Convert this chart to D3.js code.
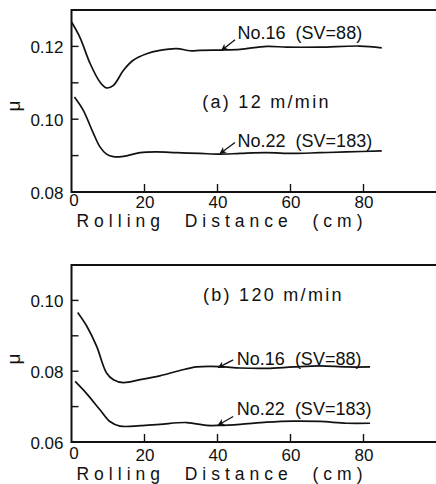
<!DOCTYPE html>
<html>
<head>
<meta charset="utf-8">
<script src="https://cdn.jsdelivr.net/npm/d3@7"></script>
<style>
  body { margin: 0; background: #fff; }
  svg { display: block; font-family: "Liberation Sans", Arial, sans-serif; }
  .tick text { font-size: 17px; fill: #111; }
  .domain { display: none; }
</style>
</head>
<body>
<script>
let w = 436;
let h = 484;

// distance (cm) and friction coefficient
let a16_x = [0, 2.3, 5.1, 7.8, 9.6, 11.5, 14.2, 16.9, 20.6, 24.2, 28.8, 32.5, 35.2, 40.7, 46.2, 53.5, 59, 68, 79, 85];
let a16_y = [0.1267, 0.1225, 0.1153, 0.1102, 0.1086, 0.1093, 0.1134, 0.1162, 0.1180, 0.1189, 0.1194, 0.1188, 0.1189, 0.1190, 0.1192, 0.1200, 0.1198, 0.1198, 0.1201, 0.1196];

let a22_x = [0.8, 3.2, 6.0, 7.8, 9.6, 11.5, 14.2, 18.8, 23.3, 28.8, 35.2, 40.7, 46.2, 53.5, 60.8, 68, 75.4, 85];
let a22_y = [0.1061, 0.1025, 0.0961, 0.0924, 0.0904, 0.0897, 0.0898, 0.0908, 0.0910, 0.0908, 0.0906, 0.0904, 0.0906, 0.0908, 0.0906, 0.0908, 0.0910, 0.0913];

let b16_x = [1.7, 4.2, 6.9, 9.6, 11.5, 14.2, 18.8, 24.2, 29.7, 34.3, 40.7, 46.2, 53.5, 60.8, 68, 75.4, 81.8];
let b16_y = [0.0966, 0.0927, 0.0870, 0.0795, 0.0776, 0.0768, 0.0776, 0.0787, 0.0802, 0.0812, 0.0813, 0.0809, 0.0808, 0.0812, 0.0815, 0.0812, 0.0812];

let b22_x = [1.0, 4.2, 7.8, 10.5, 13.3, 18.8, 24.2, 31.6, 37.0, 40.7, 46.2, 53.5, 60.8, 68, 75.4, 81.8];
let b22_y = [0.0771, 0.0736, 0.0691, 0.0658, 0.0645, 0.0646, 0.0650, 0.0655, 0.0647, 0.0647, 0.0650, 0.0656, 0.0659, 0.0658, 0.0653, 0.0653];

let xTicks = [0, 20, 40, 60, 80];
let aTicks = [0.08, 0.09, 0.10, 0.11, 0.12];
let bTicks = [0.06, 0.07, 0.08, 0.09, 0.10];
let aLabels = ["0.08", "0.10", "0.12"];
let bLabels = ["0.06", "0.08", "0.10"];

let panels = [
  { top: 10, bottom: 192, ymin: 0.08, ymax: 0.13, ticks: aTicks, labels: aLabels,
    tickOff: 16, titleOff: 35, muY: 106,
    title: "(a) 12 m/min", titleAt: [35.8, 0.1030],
    series: [
      { x: a16_x, y: a16_y, name: "No.16  (SV=88)", tip: [41.1, 0.1189], tail: [44.8, 0.1218], text: [45.5, 0.1220] },
      { x: a22_x, y: a22_y, name: "No.22  (SV=183)", tip: [40.7, 0.0906], tail: [44.8, 0.0936], text: [45.5, 0.0925] }
    ] },
  { top: 265, bottom: 442, ymin: 0.06, ymax: 0.11, ticks: bTicks, labels: bLabels,
    tickOff: 19, titleOff: 38, muY: 359,
    title: "(b) 120 m/min", titleAt: [36.0, 0.0997],
    series: [
      { x: b16_x, y: b16_y, name: "No.16  (SV=88)", tip: [40.2, 0.0810], tail: [44.3, 0.0832], text: [45.3, 0.0818] },
      { x: b22_x, y: b22_y, name: "No.22  (SV=183)", tip: [40.2, 0.0648], tail: [44.3, 0.0672], text: [45.3, 0.0676] }
    ] }
];

let svg = d3.select("body")
            .append("svg")
            .attr("width", w)
            .attr("height", h);

svg.append("defs")
   .append("marker")
   .attr("id", "arr")
   .attr("viewBox", "0 0 10 10")
   .attr("refX", 9)
   .attr("refY", 5)
   .attr("markerWidth", 7)
   .attr("markerHeight", 7)
   .attr("markerUnits", "userSpaceOnUse")
   .attr("orient", "auto")
   .append("path")
   .attr("d", "M0,0 L10,5 L0,10 L3,5 Z")
   .attr("fill", "#111");

let x = d3.scaleLinear().domain([0, 100]).range([71.5, 436.5]);

panels.forEach(p => {
  let y = d3.scaleLinear().domain([p.ymin, p.ymax]).range([p.bottom, p.top]);
  let g = svg.append("g");

  // frame: left, top and bottom lines (right side runs off the page)
  g.append("path")
   .attr("d", `M${w},${p.top}H${x(0)}V${p.bottom}H${w}`)
   .attr("fill", "none")
   .attr("stroke", "#111")
   .attr("stroke-width", 2);

  // inward ticks
  g.selectAll(".xt")
   .data(xTicks.filter(d => d > 0))
   .enter()
   .append("line")
   .attr("class", "xt")
   .attr("x1", d => x(d)).attr("x2", d => x(d))
   .attr("y1", p.bottom).attr("y2", p.bottom - 8)
   .attr("stroke", "#111")
   .attr("stroke-width", 1.4);

  g.selectAll(".yt")
   .data(p.ticks.filter(d => d > p.ymin + 1e-9))
   .enter()
   .append("line")
   .attr("class", "yt")
   .attr("x1", x(0)).attr("x2", x(0) + 7)
   .attr("y1", d => y(d)).attr("y2", d => y(d))
   .attr("stroke", "#111")
   .attr("stroke-width", 1.4);

  // tick labels
  let xa = g.append("g")
            .attr("transform", `translate(0,${p.bottom})`)
            .call(d3.axisBottom(x).tickValues(xTicks).tickSize(0).tickPadding(0));
  xa.selectAll(".tick text").attr("y", p.tickOff).attr("dy", 0);
  xa.selectAll(".tick").filter(d => d === 0).select("text").attr("dx", 2).attr("y", p.tickOff - 2);
  xa.selectAll(".tick line").remove();

  let ya = g.append("g")
            .attr("transform", `translate(${x(0)},0)`)
            .call(d3.axisLeft(y).tickValues(p.ticks).tickSize(0).tickPadding(8)
                    .tickFormat(d => { let s = d3.format(".2f")(d); return p.labels.includes(s) ? s : ""; }));
  ya.selectAll(".tick line").remove();
  ya.selectAll(".tick text").attr("dy", "0.36em");

  g.append("text")
   .attr("x", 222)
   .attr("y", p.bottom + p.titleOff)
   .attr("text-anchor", "middle")
   .attr("font-size", 17.5)
   .attr("letter-spacing", 5)
   .attr("fill", "#111")
   .style("white-space", "pre")
   .text("Rolling  Distance  (cm)");

  g.append("text")
   .attr("transform", `translate(20,${p.muY}) rotate(-90)`)
   .attr("text-anchor", "middle")
   .attr("font-size", 19)
   .attr("fill", "#111")
   .text("μ");

  g.append("text")
   .attr("x", x(p.titleAt[0]))
   .attr("y", y(p.titleAt[1]))
   .attr("font-size", 18)
   .attr("letter-spacing", 2.3)
   .attr("fill", "#111")
   .style("white-space", "pre")
   .text(p.title);

  let line = d3.line()
               .x(d => x(d[0]))
               .y(d => y(d[1]))
               .curve(d3.curveCatmullRom.alpha(0.5));

  p.series.forEach(s => {
    g.append("path")
     .datum(d3.zip(s.x, s.y))
     .attr("d", line)
     .attr("fill", "none")
     .attr("stroke", "#111")
     .attr("stroke-width", 1.7);

    g.append("line")
     .attr("x1", x(s.tail[0])).attr("y1", y(s.tail[1]))
     .attr("x2", x(s.tip[0])).attr("y2", y(s.tip[1]))
     .attr("stroke", "#111")
     .attr("stroke-width", 1.3)
     .attr("marker-end", "url(#arr)");

    g.append("text")
     .attr("x", x(s.text[0]))
     .attr("y", y(s.text[1]))
     .attr("font-size", 18)
     .attr("fill", "#111")
     .style("white-space", "pre")
     .text(s.name);
  });
});
</script>
</body>
</html>
